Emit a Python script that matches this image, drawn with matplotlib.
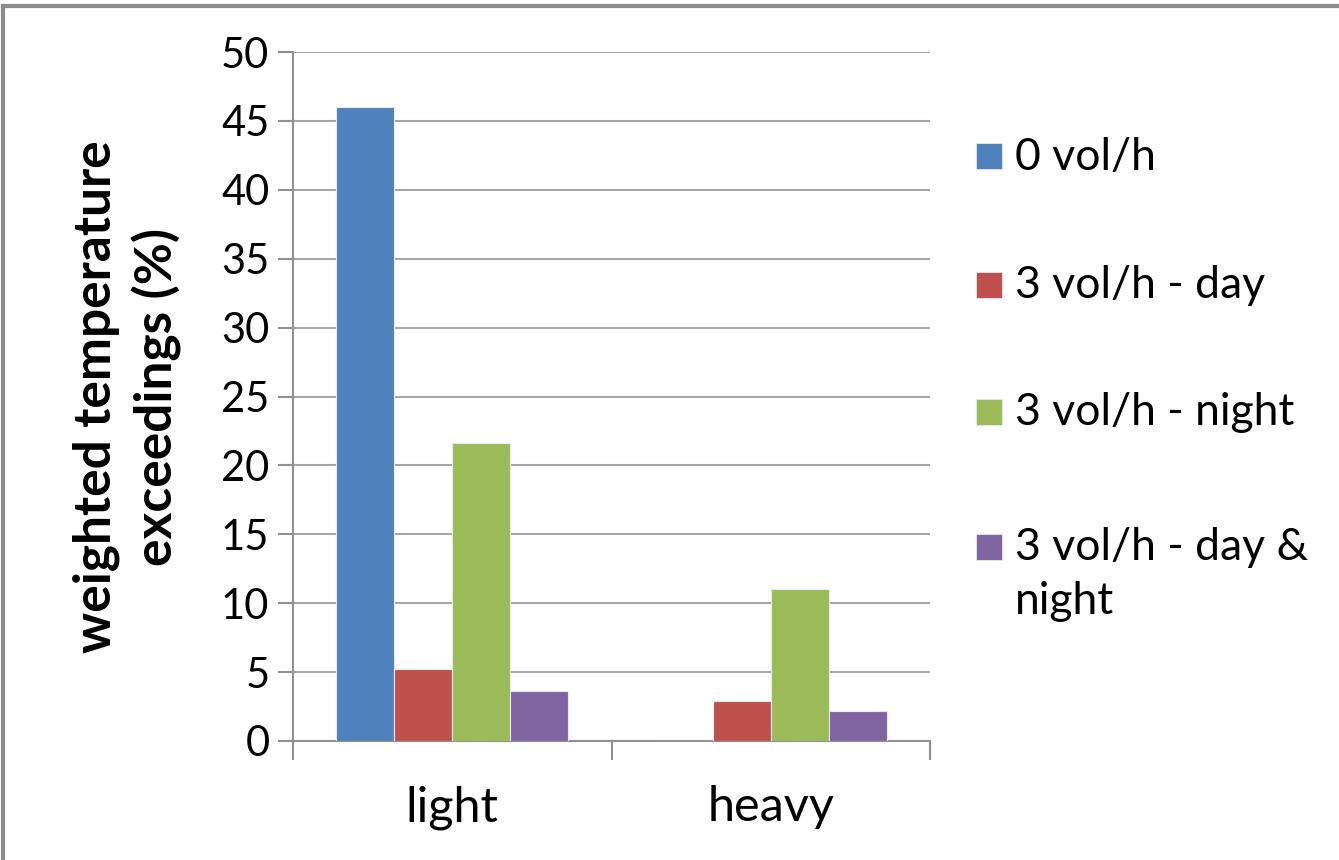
import matplotlib.pyplot as plt
from matplotlib.lines import Line2D
from matplotlib.patches import Rectangle

plt.rcParams['font.family'] = ['Lato', 'DejaVu Sans']

# Data
categories = ['light', 'heavy']
series = ['0 vol/h', '3 vol/h - day', '3 vol/h - night', '3 vol/h - day &\nnight']
values = [
    [46.0, 0.0],    # 0 vol/h
    [5.2, 2.9],     # 3 vol/h - day
    [21.6, 11.0],   # 3 vol/h - night
    [3.6, 2.2],     # 3 vol/h - day & night
]
colors = ['#4F81BD', '#C0504D', '#9BBB59', '#8064A2']

W, H = 1339, 860
fig = plt.figure(figsize=(W / 100, H / 100), dpi=100)
ax = fig.add_axes([293 / W, 1 - 741 / H, (930 - 293) / W, (741 - 52) / H])

# Excel-style clustered bars: gap width 150%
n = len(series)
bw = 1.0 / (n + 1.5)
for i, (name, vals, c) in enumerate(zip(series, values, colors)):
    xs = [k + 0.75 * bw + (i + 0.5) * bw for k in range(len(categories))]
    ax.bar(xs, vals, width=bw, color=c, edgecolor='#e8e8f0', linewidth=0.8,
           zorder=3, label=name)

ax.set_xlim(0, len(categories))
ax.set_ylim(0, 50)
ax.set_yticks(range(0, 51, 5))
ax.yaxis.grid(True, color='#a6a6a6', linewidth=1.5, zorder=0)

# category boundary ticks, labels centred in between
ax.set_xticks(range(len(categories) + 1))
ax.set_xticklabels([])
ax.set_xticks([k + 0.5 for k in range(len(categories))], minor=True)
ax.set_xticklabels(categories, minor=True)
ax.tick_params(axis='x', which='major', length=14, width=1.5, color='#909090')
ax.tick_params(axis='x', which='minor', length=0, labelsize=35, pad=32)
ax.tick_params(axis='y', length=11, width=1.5, color='#909090', labelsize=30, pad=6)

for side in ['top', 'right']:
    ax.spines[side].set_visible(False)
for side in ['left', 'bottom']:
    ax.spines[side].set_color('#909090')
    ax.spines[side].set_linewidth(1.5)

ax.set_ylabel('weighted temperature\nexceedings (%)', fontsize=37,
              fontweight='bold', linespacing=1.3, labelpad=28)

# legend drawn by hand on the right
leg_y = [157, 286, 413, 548]
for name, c, y in zip(series, colors, leg_y):
    fig.add_artist(Rectangle((976 / W, 1 - (y + 12) / H), 26 / W, 26 / H,
                             transform=fig.transFigure, facecolor=c,
                             edgecolor='#e8e8f0', linewidth=0.6))
    first = name.split('\n')[0]
    fig.text(1015 / W, 1 - y / H, first, fontsize=32, va='center', ha='left')
    if '\n' in name:
        fig.text(1015 / W, 1 - (y + 53) / H, name.split('\n')[1], fontsize=32,
                 va='center', ha='left')

# outer frame, top and left edges
fig.add_artist(Line2D([0.002, 0.002], [0, 0.993], transform=fig.transFigure,
                      color='#8c8c8c', linewidth=3))
fig.add_artist(Line2D([0.002, 1], [0.993, 0.993], transform=fig.transFigure,
                      color='#8c8c8c', linewidth=3))

fig.savefig('out.png', dpi=100)
